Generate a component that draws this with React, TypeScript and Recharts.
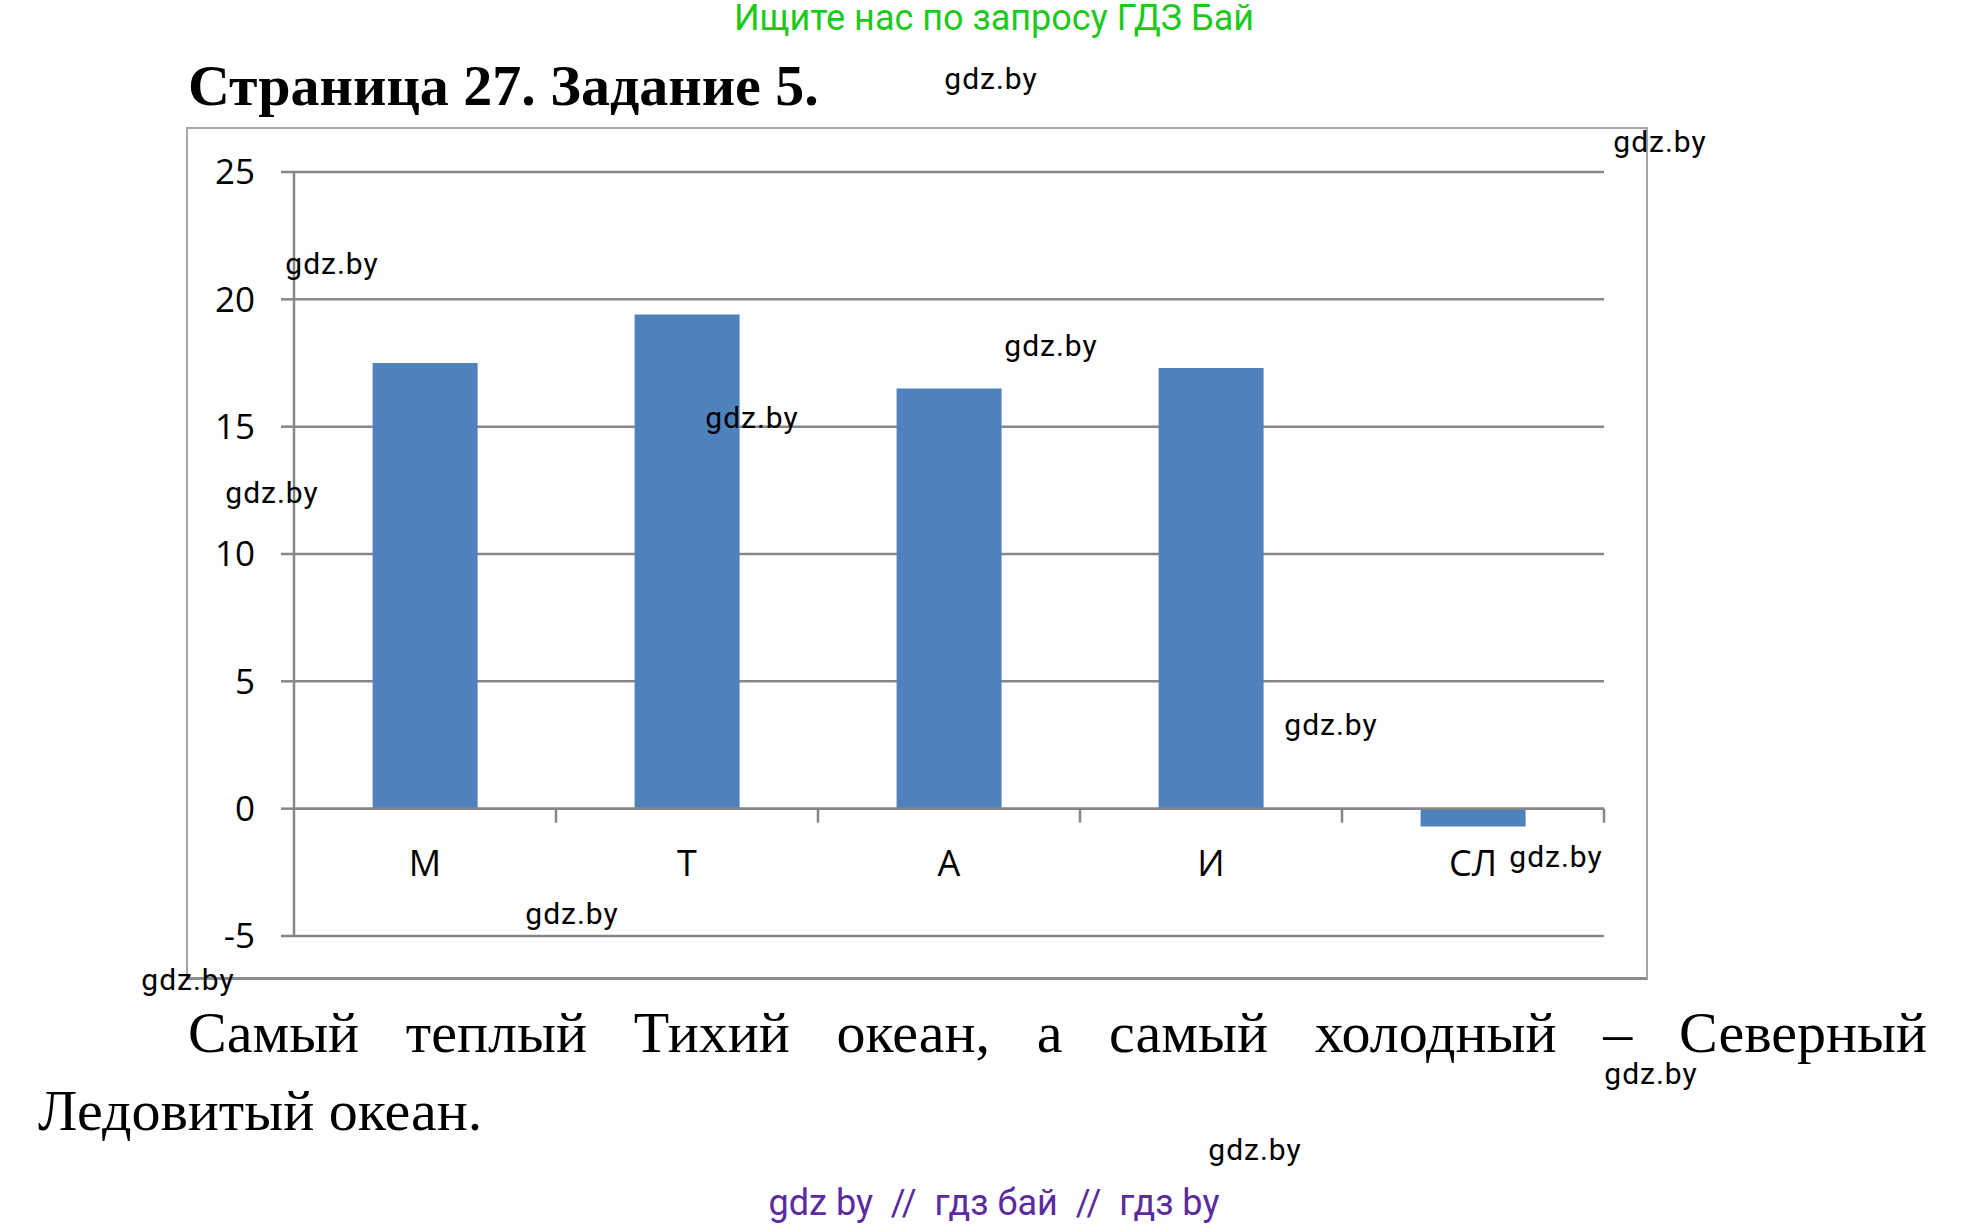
import { Bar, BarChart, CartesianGrid, ReferenceLine, XAxis, YAxis } from "recharts";

const oceans = ["М", "Т", "А", "И", "СЛ"];
const temperatures = [17.5, 19.4, 16.5, 17.3, -0.7];
const yTicks = [-5, 0, 5, 10, 15, 20, 25];
const Y_MIN = -5;
const Y_MAX = 25;

const data = oceans.map((name, i) => ({ name, t: temperatures[i] }));

const marks = [
  [991, 79],
  [1660, 142],
  [332, 264],
  [1051, 346],
  [752, 418],
  [272, 493],
  [1331, 725],
  [1556, 857],
  [572, 914],
  [188, 980],
  [1651, 1074],
  [1255, 1150],
];

const W = 1462;
const H = 853;
const M = { top: 45, right: 44, bottom: 0, left: 48 };
const Y_AXIS_W = 60;
const X_AXIS_H = 44;
const plotW = W - M.left - Y_AXIS_W - M.right;
const plotH = H - M.top - M.bottom - X_AXIS_H;
const zeroY = M.top + (plotH * (Y_MAX - 0)) / (Y_MAX - Y_MIN);

const GRID = "#878787";
const BAR = "#4f81bd";
const SANS = "'Open Sans', sans-serif";

function OceanTick(props: any) {
  const { x, payload } = props;
  const bw = plotW / oceans.length;
  return (
    <g>
      <line x1={x + bw / 2} x2={x + bw / 2} y1={zeroY} y2={zeroY + 14} stroke={GRID} strokeWidth={2.5} />
      <text x={x} y={zeroY + 67} textAnchor="middle" fontSize={36} fontFamily={SANS} fill="#000">
        {payload.value}
      </text>
    </g>
  );
}

export default function App() {
  return (
    <div
      style={{
        position: "absolute",
        left: 0,
        top: 0,
        width: 1988,
        height: 1226,
        background: "#fff",
        overflow: "hidden",
      }}
    >
      <div
        style={{
          position: "absolute",
          top: 0,
          left: 0,
          width: 1988,
          textAlign: "center",
          font: "36px Roboto, sans-serif",
          lineHeight: "37px",
          color: "#1ec91e",
        }}
      >
        Ищите нас по запросу ГДЗ Бай
      </div>

      <div
        style={{
          position: "absolute",
          top: 56,
          left: 188,
          font: "bold 58px 'Liberation Serif', serif",
          lineHeight: "60px",
          whiteSpace: "nowrap",
        }}
      >
        Страница 27. Задание 5.
      </div>

      <div
        style={{
          position: "absolute",
          left: 186,
          top: 127,
          width: W,
          height: H,
          boxSizing: "border-box",
          border: "2px solid #a6a6a6",
          borderBottom: "3px solid #8c8c8c",
        }}
      />

      <div style={{ position: "absolute", left: 186, top: 127 }}>
        <BarChart width={W} height={H} data={data} margin={M} barCategoryGap="30%">
          <CartesianGrid horizontal vertical={false} stroke={GRID} strokeWidth={2.5} />
          <XAxis
            dataKey="name"
            height={X_AXIS_H}
            axisLine={false}
            tickLine={false}
            tick={<OceanTick />}
            interval={0}
          />
          <YAxis
            width={Y_AXIS_W}
            domain={[Y_MIN, Y_MAX]}
            ticks={yTicks}
            interval={0}
            axisLine={{ stroke: GRID, strokeWidth: 2.5 }}
            tickLine={{ stroke: GRID, strokeWidth: 2.5 }}
            tickSize={13}
            tickMargin={26}
            tick={{ fontSize: 35, fontFamily: SANS, fill: "#000" }}
          />
          <Bar dataKey="t" fill={BAR} isAnimationActive={false} />
          <ReferenceLine y={0} stroke={GRID} strokeWidth={2.5} />
        </BarChart>
      </div>

      <div
        style={{
          position: "absolute",
          left: 188,
          top: 994,
          width: 1739,
          font: "58px 'Liberation Serif', serif",
          lineHeight: "78px",
          textAlign: "justify",
          textAlignLast: "justify",
          whiteSpace: "nowrap",
        }}
      >
        Самый теплый Тихий океан, а самый холодный – Северный
      </div>
      <div
        style={{
          position: "absolute",
          left: 38,
          top: 1072,
          font: "58px 'Liberation Serif', serif",
          lineHeight: "78px",
          whiteSpace: "nowrap",
        }}
      >
        Ледовитый океан.
      </div>

      {marks.map(([x, y], i) => (
        <div
          key={i}
          style={{
            position: "absolute",
            left: x,
            top: y,
            transform: "translate(-50%, -50%)",
            font: "30px Roboto, sans-serif",
            letterSpacing: 1,
            lineHeight: 1,
            color: "#000",
            whiteSpace: "nowrap",
          }}
        >
          gdz.by
        </div>
      ))}

      <div
        style={{
          position: "absolute",
          top: 1184,
          left: 0,
          width: 1988,
          textAlign: "center",
          font: "36px Roboto, sans-serif",
          lineHeight: "38px",
          color: "#5b2b9f",
          whiteSpace: "pre",
        }}
      >
        {"gdz by  //  гдз бай  //  гдз by"}
      </div>
    </div>
  );
}
